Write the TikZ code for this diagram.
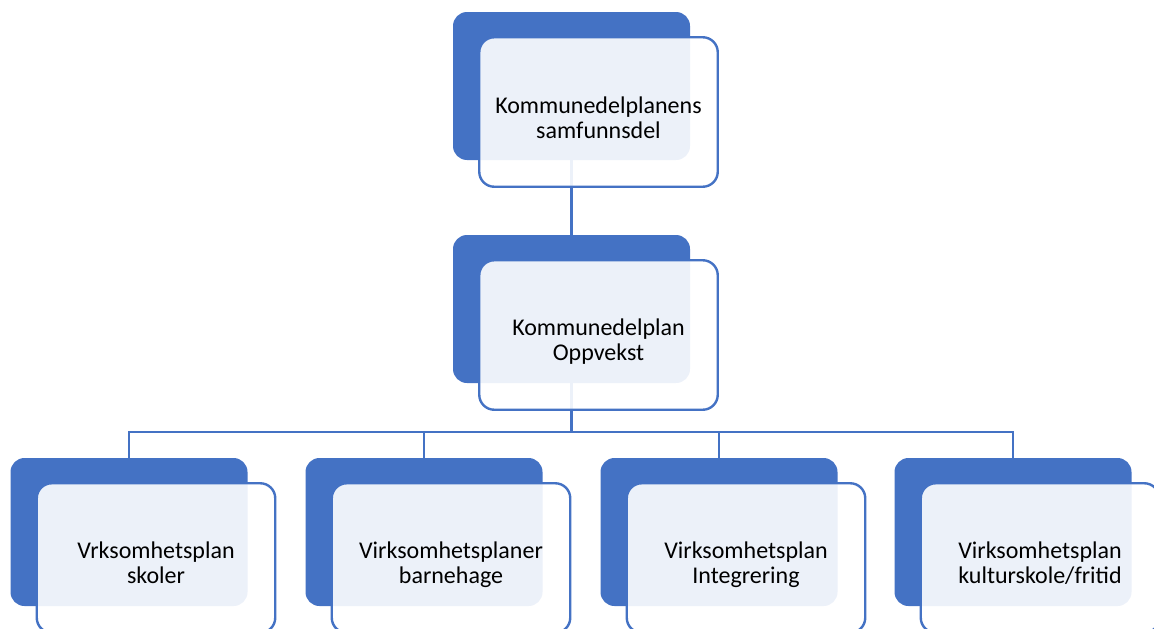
\documentclass[tikz,border=0pt]{standalone}
\usepackage{fontspec}
\setmainfont{Carlito}
\definecolor{accent}{HTML}{4472C4}
\begin{document}
\begin{tikzpicture}[x=1pt,y=-1pt,
  backbox/.style={fill=accent, draw=none, rounded corners=14pt, minimum width=237pt, minimum height=148pt, inner sep=0pt},
  frontbox/.style={draw=accent, line width=2.4pt, fill=white, fill opacity=0.9, rounded corners=15pt, minimum width=238.5pt, minimum height=149.5pt, inner sep=0pt},
  boxtext/.style={font=\fontsize{24}{25}\selectfont, align=center, inner sep=0pt, text=black},
  link/.style={draw=accent, line width=2.6pt}]
\useasboundingbox (0,0) rectangle (1154,629);
\clip (0,0) rectangle (1154,629);
% back boxes
\node[backbox] (top) at (571.5,86) {};
\node[backbox] (mid) at (571.5,309) {};
\node[backbox] (c1) at (129,532) {};
\node[backbox] (c2) at (424,532) {};
\node[backbox] (c3) at (719,532) {};
\node[backbox] (c4) at (1013,532) {};
% connectors
\coordinate (bus) at (0,432);
\draw[link] (top.south) -- (mid.north);
\draw[link] (mid.south) -- (mid.south |- bus) -| (c1.north);
\draw[link] (mid.south |- bus) -| (c2.north);
\draw[link] (mid.south |- bus) -| (c3.north);
\draw[link] (mid.south |- bus) -| (c4.north);
% front boxes
\node[frontbox] (ftop) at (598.5,112) {};
\node[frontbox] (fmid) at (598.5,335) {};
\node[frontbox] (f1) at (156,558) {};
\node[frontbox] (f2) at (451,558) {};
\node[frontbox] (f3) at (746,558) {};
\node[frontbox] (f4) at (1040,558) {};
% texts
\node[boxtext] (ttop) at (598.5,120.5) {\strut Kommunedelplanens\\\strut samfunnsdel};
\node[boxtext] (tmid) at (598.5,343) {\strut Kommunedelplan\\\strut Oppvekst};
\node[boxtext] (t1) at (156,565.5) {\strut Vrksomhetsplan\\\strut skoler};
\node[boxtext] (t2) at (451,565.5) {\strut Virksomhetsplaner\\\strut barnehage};
\node[boxtext] (t3) at (746,565.5) {\strut Virksomhetsplan\\\strut Integrering};
\node[boxtext] (t4) at (1040,565.5) {\strut Virksomhetsplan\\\strut kulturskole/fritid};
\end{tikzpicture}
\end{document}
